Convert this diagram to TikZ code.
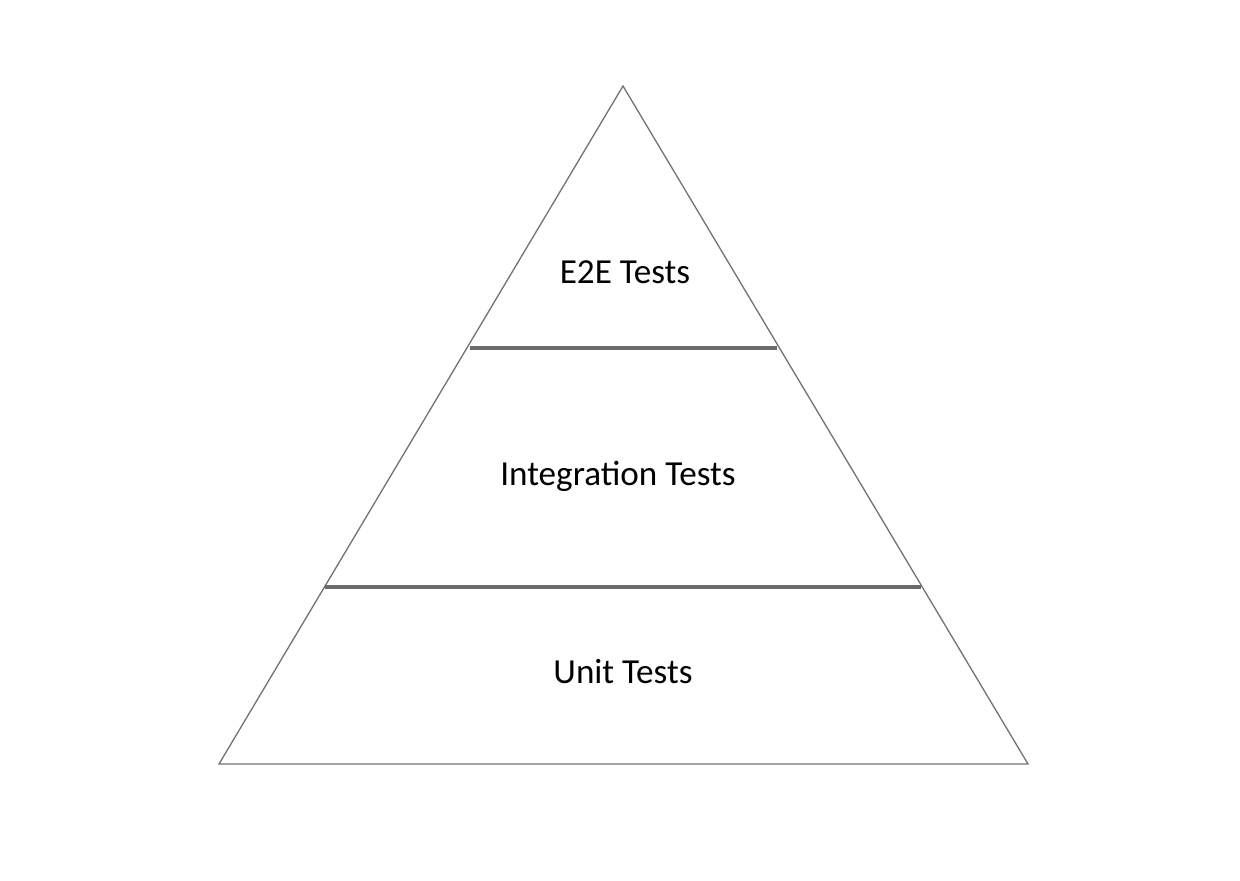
\documentclass[tikz,border=0pt]{standalone}
\usepackage{fontspec}
\setmainfont{Carlito}
\usepackage{tikz}
\usetikzlibrary{positioning}

\begin{document}
\begin{tikzpicture}[
    x=0.02cm, y=-0.02cm,
    edge/.style={draw=black!55, line width=0.75pt, line join=miter},
    divider/.style={draw=black!58, line width=1.8pt},
    layer/.style={font=\fontsize{20}{22}\selectfont, text=black, inner sep=0pt, anchor=base}
]

% Frame
\useasboundingbox (0,0) rectangle (1240,880);

% Corners
\coordinate (apex) at (623,86);
\coordinate (baseL) at (219,764);
\coordinate (baseR) at (1028,764);
\coordinate (topL) at (470,348);
\coordinate (topR) at (777,348);
\coordinate (midL) at (325,587);
\coordinate (midR) at (921,587);

% Pyramid
\draw [edge] (apex) -- (baseR) -- (baseL) -- cycle;
\draw [divider] (topL) -- (topR);
\draw [divider] (midL) -- (midR);

% Nodes
\node (e2e) [layer] at (625,283) {E2E Tests};
\node (integ) [layer] at (618,485) {Integration Tests};
\node (unit) [layer] at (623,683) {Unit Tests};

\end{tikzpicture}
\end{document}
